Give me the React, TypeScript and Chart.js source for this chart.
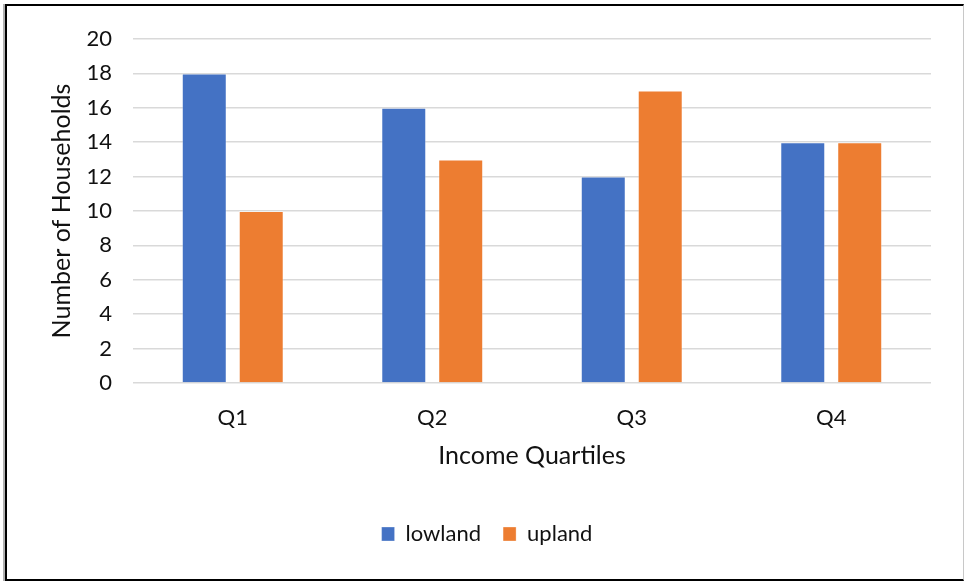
import React, { useEffect, useRef } from "react";
import { Chart, registerables } from "chart.js";

Chart.register(...registerables);

// Households per income quartile, by zone
const quartiles = ["Q1", "Q2", "Q3", "Q4"];
const lowland = [18, 16, 12, 14];
const upland = [10, 13, 17, 14];

const FONT = "Lato, 'Open Sans', sans-serif";
const TEXT = "#111111";

export default function App() {
  const canvasRef = useRef<HTMLCanvasElement | null>(null);

  useEffect(() => {
    document.body.style.margin = "0";
    const canvas = canvasRef.current;
    if (!canvas) return;

    const chart = new Chart(canvas, {
      type: "bar",
      data: {
        labels: quartiles,
        datasets: [
          {
            label: "lowland",
            data: lowland,
            backgroundColor: "#4472C4",
            borderColor: "rgba(255,255,255,0.3)",
            borderWidth: 1,
            categoryPercentage: 0.571,
            barPercentage: 0.79,
          },
          {
            label: "upland",
            data: upland,
            backgroundColor: "#ED7D31",
            borderColor: "rgba(255,255,255,0.3)",
            borderWidth: 1,
            categoryPercentage: 0.571,
            barPercentage: 0.79,
          },
        ],
      },
      options: {
        responsive: false,
        animation: false,
        devicePixelRatio: 1,
        layout: { padding: { left: 43, right: 34, top: 39, bottom: 26 } },
        plugins: {
          tooltip: { enabled: false },
          legend: {
            position: "bottom",
            labels: {
              boxWidth: 13,
              boxHeight: 14,
              padding: 22,
              color: TEXT,
              font: { family: FONT, size: 22 },
            },
          },
        },
        scales: {
          x: {
            grid: { display: false },
            border: { display: false },
            ticks: {
              color: TEXT,
              padding: 14,
              font: { family: FONT, size: 22 },
            },
            title: {
              display: true,
              text: "Income Quartiles",
              color: TEXT,
              padding: { top: 4, bottom: 30 },
              font: { family: FONT, size: 25 },
            },
            afterFit: (scale: any) => {
              scale.height = 118;
            },
          },
          y: {
            min: 0,
            max: 20,
            ticks: {
              stepSize: 2,
              color: TEXT,
              padding: 21,
              font: { family: FONT, size: 22 },
            },
            grid: { color: "#d9d9d9", lineWidth: 1.5, drawTicks: false },
            border: { display: false },
            title: {
              display: true,
              text: "Number of Households",
              color: TEXT,
              padding: { top: 4, bottom: 4 },
              font: { family: FONT, size: 25 },
            },
            afterFit: (scale: any) => {
              scale.width = 90;
            },
          },
        },
      },
    });

    return () => chart.destroy();
  }, []);

  return (
    <div style={{ position: "relative", width: 965, height: 581, background: "#fff", overflow: "hidden" }}>
      <div
        style={{
          position: "absolute",
          left: 5,
          top: 4,
          width: 956,
          height: 573,
          borderLeft: "2px solid #000",
          borderTop: "2px solid #000",
          borderBottom: "2px solid #000",
          borderRight: "1px solid #c8c8c8",
          boxShadow: "-2px 0 0 #b0b0b0",
        }}
      />
      <canvas
        ref={canvasRef}
        width={965}
        height={581}
        style={{ position: "absolute", left: 0, top: 0, width: 965, height: 581 }}
      />
    </div>
  );
}
